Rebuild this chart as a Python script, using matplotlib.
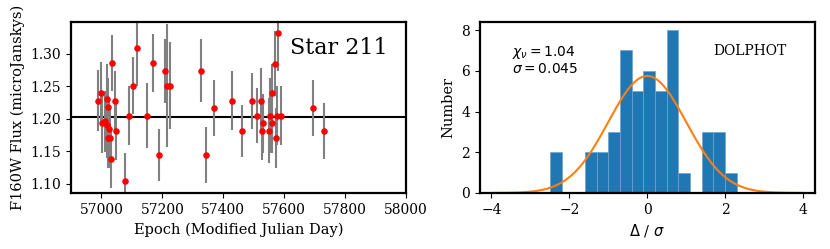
import numpy as np
import matplotlib
matplotlib.use('Agg')
import matplotlib.pyplot as plt

plt.rcParams['font.family'] = 'DejaVu Serif'
plt.rcParams['axes.linewidth'] = 1.6

# light curve of star 211 (MJD, flux in microJanskys, 1-sigma error)
epoch = [56990, 56997, 57001, 57012, 57018, 57018, 57021, 57025, 57021, 57027,
         57030, 57034, 57045, 57049, 57077, 57091, 57105, 57118, 57150, 57170,
         57188, 57209, 57216, 57225, 57328, 57343, 57369, 57429, 57461, 57495,
         57511, 57524, 57527, 57531, 57551, 57554, 57560, 57560, 57570, 57573,
         57578, 57581, 57589, 57695, 57731]
flux = [1.228, 1.239, 1.194, 1.196, 1.190, 1.231, 1.218, 1.185, 1.170, 1.170,
        1.139, 1.286, 1.228, 1.182, 1.105, 1.205, 1.251, 1.309, 1.205, 1.286,
        1.144, 1.274, 1.251, 1.251, 1.274, 1.145, 1.216, 1.228, 1.182, 1.228,
        1.205, 1.228, 1.182, 1.193, 1.182, 1.205, 1.239, 1.193, 1.285, 1.170,
        1.205, 1.332, 1.205, 1.216, 1.182]
flux_err = [0.047, 0.048, 0.046, 0.047, 0.050, 0.053, 0.045, 0.048, 0.045, 0.045,
            0.045, 0.043, 0.045, 0.045, 0.042, 0.046, 0.044, 0.058, 0.050, 0.045,
            0.040, 0.049, 0.095, 0.067, 0.048, 0.043, 0.043, 0.045, 0.040, 0.043,
            0.042, 0.050, 0.045, 0.045, 0.050, 0.058, 0.045, 0.045, 0.050, 0.046,
            0.045, 0.058, 0.045, 0.043, 0.043]
mean_flux = 1.2035

# residual histogram (Delta / sigma)
bin_edges = [-2.5, -2.2, -1.9, -1.6, -1.3, -1.0, -0.7, -0.4, -0.1,
             0.2, 0.5, 0.8, 1.1, 1.4, 1.7, 2.0, 2.3]
bin_counts = [2, 0, 0, 2, 2, 3, 7, 5, 6, 5, 8, 1, 0, 3, 3, 1]
n_points = 48
bin_width = 0.3
chi_nu = 1.04
sigma = 0.045

fig = plt.figure(figsize=(8.3, 2.49), dpi=100)
ax1 = fig.add_axes([0.0855, 0.225, 0.4036, 0.687])
ax2 = fig.add_axes([0.578, 0.225, 0.4036, 0.687])

ax1.errorbar(epoch, flux, yerr=flux_err, fmt='none', ecolor='gray', elinewidth=1.5, zorder=2)
ax1.plot(epoch, flux, 'o', color='red', ms=3.7, zorder=3)
ax1.axhline(mean_flux, color='black', lw=1.5, zorder=1)
ax1.set_xlim(56900, 58000)
ax1.set_ylim(1.086, 1.349)
ax1.set_xticks(np.arange(57000, 58001, 200))
ax1.set_yticks([1.10, 1.15, 1.20, 1.25, 1.30])
ax1.set_xlabel('Epoch (Modified Julian Day)', fontsize=10.5)
ax1.set_ylabel('F160W Flux (microJanskys)', fontsize=10.5)
ax1.tick_params(labelsize=10)
ax1.text(0.654, 0.848, 'Star 211', transform=ax1.transAxes, fontsize=16, va='center')

centers = [(bin_edges[i] + bin_edges[i + 1]) / 2 for i in range(len(bin_counts))]
ax2.hist(centers, bins=bin_edges, weights=bin_counts, color='#1f77b4',
         edgecolor='#6fa3d0', linewidth=0.5)
xg = np.linspace(-4, 4, 300)
ax2.plot(xg, n_points * bin_width / np.sqrt(2 * np.pi) * np.exp(-xg**2 / 2),
         color='#ff7f0e', lw=1.5)
ax2.set_xlim(-4.3, 4.3)
ax2.set_ylim(0, 8.4)
ax2.set_xticks([-4, -2, 0, 2, 4])
ax2.set_yticks([0, 2, 4, 6, 8])
ax2.set_xlabel(r'$\Delta$ / $\sigma$', fontsize=10.5)
ax2.set_ylabel('Number', fontsize=10.5)
ax2.tick_params(labelsize=10)
ax2.text(0.096, 0.82, r'$\chi_\nu = %.2f$' % chi_nu, transform=ax2.transAxes,
         fontsize=10, va='center')
ax2.text(0.096, 0.725, r'$\sigma = %.3f$' % sigma, transform=ax2.transAxes,
         fontsize=10, va='center')
ax2.text(0.916, 0.83, 'DOLPHOT', transform=ax2.transAxes, fontsize=10,
         ha='right', va='center')

fig.savefig('out.png', dpi=100)
